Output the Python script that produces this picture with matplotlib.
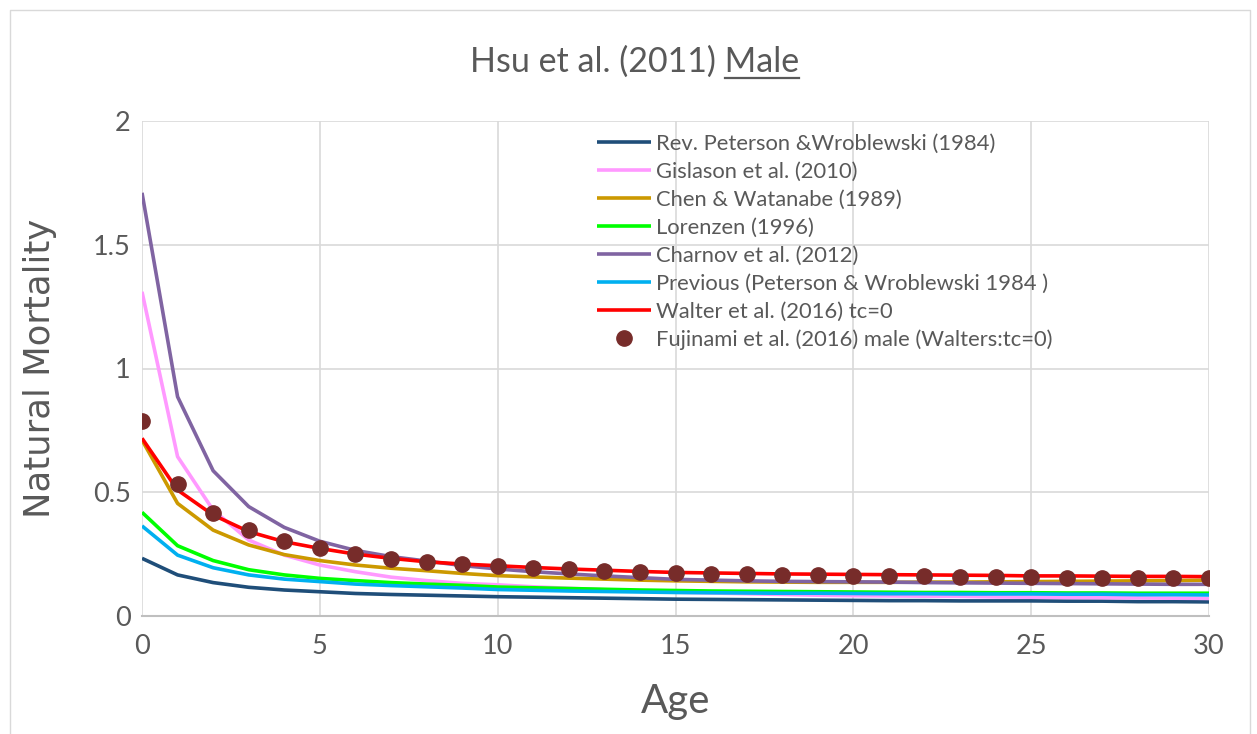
import numpy as np
import matplotlib.pyplot as plt
from matplotlib.lines import Line2D

plt.rcParams['font.family'] = ['Lato', 'DejaVu Sans']

# ---- data ----
ages = list(range(0, 31))

rev_pw = [0.233, 0.166, 0.135, 0.116, 0.105, 0.098, 0.091, 0.087, 0.084, 0.081,
          0.078, 0.076, 0.074, 0.072, 0.070, 0.068, 0.067, 0.066, 0.065, 0.064,
          0.063, 0.062, 0.062, 0.061, 0.061, 0.061, 0.060, 0.060, 0.058, 0.058, 0.057]
gislason = [1.31, 0.644, 0.428, 0.307, 0.246, 0.206, 0.179, 0.157, 0.143, 0.132,
            0.126, 0.118, 0.112, 0.106, 0.101, 0.096, 0.093, 0.090, 0.087, 0.084,
            0.082, 0.081, 0.080, 0.079, 0.077, 0.076, 0.075, 0.074, 0.073, 0.072, 0.071]
chen_wat = [0.711, 0.455, 0.347, 0.287, 0.248, 0.224, 0.206, 0.193, 0.183, 0.172,
            0.163, 0.158, 0.153, 0.149, 0.145, 0.142, 0.140, 0.138, 0.137, 0.136,
            0.136, 0.136, 0.137, 0.137, 0.138, 0.139, 0.140, 0.141, 0.142, 0.143, 0.145]
lorenzen = [0.419, 0.284, 0.224, 0.187, 0.166, 0.152, 0.143, 0.135, 0.129, 0.124,
            0.117, 0.114, 0.111, 0.108, 0.105, 0.103, 0.101, 0.100, 0.099, 0.098,
            0.097, 0.096, 0.095, 0.095, 0.094, 0.094, 0.093, 0.093, 0.092, 0.092, 0.092]
charnov = [1.71, 0.886, 0.587, 0.442, 0.358, 0.302, 0.265, 0.240, 0.222, 0.204,
           0.190, 0.179, 0.170, 0.162, 0.155, 0.148, 0.145, 0.142, 0.140, 0.139,
           0.138, 0.137, 0.135, 0.134, 0.133, 0.132, 0.131, 0.130, 0.129, 0.128, 0.128]
previous_pw = [0.364, 0.246, 0.195, 0.166, 0.149, 0.139, 0.129, 0.123, 0.118, 0.113,
               0.107, 0.104, 0.101, 0.099, 0.097, 0.095, 0.094, 0.093, 0.092, 0.092,
               0.091, 0.090, 0.090, 0.089, 0.089, 0.089, 0.088, 0.088, 0.086, 0.086, 0.085]
walter = [0.718, 0.509, 0.408, 0.341, 0.300, 0.273, 0.250, 0.233, 0.219, 0.210,
          0.203, 0.196, 0.190, 0.185, 0.180, 0.176, 0.174, 0.172, 0.170, 0.169,
          0.168, 0.167, 0.166, 0.165, 0.164, 0.162, 0.162, 0.161, 0.160, 0.160, 0.159]
fujinami = [0.789, 0.533, 0.415, 0.347, 0.303, 0.273, 0.249, 0.230, 0.218, 0.209,
            0.201, 0.194, 0.188, 0.183, 0.178, 0.173, 0.170, 0.168, 0.166, 0.165,
            0.163, 0.161, 0.160, 0.158, 0.157, 0.156, 0.155, 0.154, 0.153, 0.153, 0.152]

line_series = [
    ("Rev. Peterson &Wroblewski (1984)", rev_pw, '#1F4E79'),
    ("Gislason et al. (2010)", gislason, '#FF99FF'),
    ("Chen & Watanabe (1989)", chen_wat, '#CC9900'),
    ("Lorenzen (1996)", lorenzen, '#00FF00'),
    ("Charnov et al. (2012)", charnov, '#8064A2'),
    ("Previous (Peterson & Wroblewski 1984 )", previous_pw, '#00B0F0'),
    ("Walter et al. (2016) tc=0", walter, '#FF0000'),
]

# ---- figure ----
fig = plt.figure(figsize=(12.57, 7.34), dpi=100)
ax = fig.add_axes([142/1257, 1 - 616/734, (1209 - 142)/1257, (616 - 121)/734])

for name, vals, col in line_series:
    ax.plot(ages, vals, color=col, lw=2.6, label=name, solid_capstyle='butt')
ax.plot(ages, fujinami, ls='none', marker='o', ms=11, color='#772C2A',
        label="Fujinami et al. (2016) male (Walters:tc=0)")

ax.set_xlim(0, 30)
ax.set_ylim(0, 2)
ax.set_xticks([0, 5, 10, 15, 20, 25, 30])
ax.set_yticks([0, 0.5, 1, 1.5, 2])
ax.set_yticklabels(["0", "0.5", "1", "1.5", "2"])
ax.tick_params(length=0, labelsize=19.5, colors='#595959')
ax.tick_params(axis='y', pad=8)
ax.tick_params(axis='x', pad=13)
ax.grid(True, color='#D9D9D9', lw=1.2)
ax.set_axisbelow(True)
for s in ['top', 'right', 'left']:
    ax.spines[s].set_visible(False)
ax.spines['bottom'].set_color('#BFBFBF')
ax.spines['bottom'].set_linewidth(1.5)

ax.set_xlabel("Age", fontsize=29, color='#595959', labelpad=17)
ax.set_ylabel("Natural Mortality", fontsize=25.5, color='#595959',
              family='DejaVu Sans', labelpad=26)

leg = ax.legend(loc='upper left', bbox_to_anchor=(0.414, 1.0), frameon=False,
                fontsize=15.8, handlelength=2.45, handletextpad=0.23,
                labelspacing=0.36, borderaxespad=0.2)
for t in leg.get_texts():
    t.set_color('#595959')

# title with underlined "Male"
ty = 1 - 72/734
title = fig.text(0.505, ty, "Hsu et al. (2011) Male", ha='center',
                 va='baseline', fontsize=24.5, color='#595959')
fig.canvas.draw()
rend = fig.canvas.get_renderer()
bb = title.get_window_extent(rend)
male = fig.text(bb.x1 / fig.bbox.width, ty, "Male", ha='right',
                va='baseline', fontsize=24.5, color='#595959', alpha=0)
mb = male.get_window_extent(rend)
uy = (734 - 78) / 734
fig.add_artist(Line2D([mb.x0 / fig.bbox.width, mb.x1 / fig.bbox.width], [uy, uy],
                      transform=fig.transFigure, color='#595959', lw=1.6))

# outer chart border
fig.add_artist(Line2D([10/1257, 10/1257, 1250/1257, 1250/1257],
                      [0, 1 - 10/734, 1 - 10/734, 0],
                      transform=fig.transFigure, color='#D9D9D9', lw=1))

fig.savefig("out.png", dpi=100)
